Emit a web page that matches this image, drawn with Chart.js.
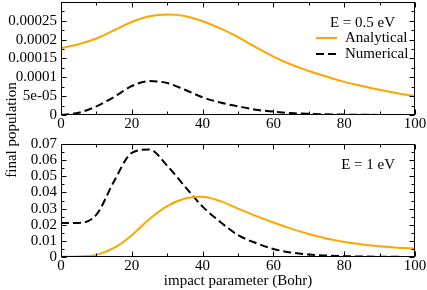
<!DOCTYPE html>
<html>
<head>
<meta charset="utf-8">
<script src="https://cdn.jsdelivr.net/npm/chart.js@4"></script>
<style>
  html, body { margin: 0; padding: 0; background: #fff; }
  #wrap { position: relative; width: 427px; height: 290px; overflow: hidden; background: #fff; }
  canvas { position: absolute; left: 0; }
</style>
</head>
<body>
<div id="wrap">
  <canvas id="c1" width="427" height="290" style="top:0px"></canvas>
  <canvas id="c2" width="427" height="160" style="top:130px"></canvas>
</div>
<script>
// ---- data ----
const xValues = [0, 5, 10, 15, 20, 25, 30, 35, 40, 45, 50, 55, 60, 65, 70, 75, 80, 85, 90, 95, 100];

// E = 0.5 eV
const analyticalHalf = [1.78e-4, 1.88e-4, 2.03e-4, 2.25e-4, 2.47e-4, 2.62e-4, 2.67e-4, 2.63e-4, 2.49e-4, 2.30e-4, 2.07e-4,
                        1.80e-4, 1.55e-4, 1.34e-4, 1.17e-4, 1.02e-4, 0.88e-4, 0.77e-4, 0.67e-4, 0.58e-4, 0.50e-4];
const numericalHalf  = [0, 0.06e-4, 0.23e-4, 0.48e-4, 0.77e-4, 0.90e-4, 0.85e-4, 0.67e-4, 0.47e-4, 0.33e-4, 0.23e-4,
                        0.14e-4, 0.09e-4, 0.05e-4, 0.03e-4, 0.02e-4, 0.01e-4, 0.005e-4, 0.003e-4, 0.001e-4, 0];

// E = 1 eV
const analyticalOne = [0.0001, 0.0003, 0.0013, 0.0056, 0.0135, 0.0235, 0.0315, 0.0362, 0.0373, 0.0346, 0.0300,
                       0.0255, 0.0214, 0.0176, 0.0142, 0.0114, 0.0093, 0.0078, 0.0066, 0.0058, 0.0052];
const numericalOne  = [0.0211, 0.0211, 0.0262, 0.0470, 0.0645, 0.0666, 0.0565, 0.0437, 0.0312, 0.0217, 0.0136,
                       0.0087, 0.0050, 0.0028, 0.0015, 0.0009, 0.0005, 0.0003, 0.0002, 0.0001, 0];

const xTickValues = [0, 20, 40, 60, 80, 100];
const xTickLabels = ['0', '20', '40', '60', '80', '100'];
const yTickValuesTop = [0, 5e-5, 1e-4, 1.5e-4, 2e-4, 2.5e-4];
const yTickLabelsTop = ['0', '5e-05', '0.0001', '0.00015', '0.0002', '0.00025'];
const yTickValuesBottom = [0, 0.01, 0.02, 0.03, 0.04, 0.05, 0.06, 0.07];
const yTickLabelsBottom = ['0', '0.01', '0.02', '0.03', '0.04', '0.05', '0.06', '0.07'];

const seriesNames = ['Analytical', 'Numerical'];
const energyLabels = ['E = 0.5 eV', 'E = 1 eV'];
const xTitle = 'impact parameter (Bohr)';
const yTitle = 'final population';

// ---- styles ----
const FONT = '"Liberation Serif", "Times New Roman", serif';
const ORANGE = '#FFA500';
const DASH = [8, 4];

function pts(ys) { return xValues.map((x, i) => ({ x: x, y: ys[i] })); }

function datasets(a, n) {
  return [
    { label: seriesNames[0], data: pts(a), borderColor: ORANGE, borderWidth: 2, pointRadius: 0,
      tension: 0.4, fill: false },
    { label: seriesNames[1], data: pts(n), borderColor: '#000', borderWidth: 2, borderDash: DASH, pointRadius: 0,
      cubicInterpolationMode: 'monotone', fill: false }
  ];
}

// frame + inward major/minor ticks + in-plot legend
const framePlugin = {
  id: 'frameTicks',
  afterDatasetsDraw(chart, args, opts) {
    const ctx = chart.ctx;
    const { left, right, top, bottom } = chart.chartArea;
    const xs = chart.scales.x, ys = chart.scales.y;
    ctx.save();
    ctx.strokeStyle = '#000';
    ctx.lineWidth = 1;
    const L = Math.round(left) + 0.5, R = Math.round(right) - 0.5, T = Math.round(top) + 0.5, B = Math.round(bottom) - 0.5;
    ctx.beginPath();
    const xv = xs.ticks.map(t => t.value);
    const xStep = xv[1] - xv[0];
    for (let k = 0; xs.min + k * xStep / 2 <= xs.max + 1e-9; k++) {
      const v = xs.min + k * xStep / 2;
      const len = (k % 2 === 0) ? 5 : 3;
      const p = Math.round(xs.getPixelForValue(v)) + 0.5;
      ctx.moveTo(p, B); ctx.lineTo(p, B - len);
      ctx.moveTo(p, T); ctx.lineTo(p, T + len);
    }
    const yv = ys.ticks.map(t => t.value);
    const yStep = yv[1] - yv[0];
    for (let k = 0; ys.min + k * yStep / 2 <= ys.max * (1 + 1e-9); k++) {
      const v = ys.min + k * yStep / 2;
      const len = (k % 2 === 0) ? 5 : 3;
      const p = Math.round(ys.getPixelForValue(v)) + 0.5;
      ctx.moveTo(L, p); ctx.lineTo(L + len, p);
      ctx.moveTo(R, p); ctx.lineTo(R - len, p);
    }
    ctx.stroke();
    ctx.strokeRect(L, T, R - L, B - T);

    // legend / annotation
    ctx.fillStyle = '#000';
    ctx.font = '15px ' + FONT;
    ctx.textBaseline = 'alphabetic';
    ctx.textAlign = 'right';
    ctx.fillText(opts.energy, right - 20, top + opts.energyDy);
    if (opts.showLegend) {
      const ds = chart.data.datasets;
      const tx = right - 70;
      ds.forEach((d, i) => {
        const base = top + 39.5 + i * 16;
        ctx.beginPath();
        ctx.strokeStyle = d.borderColor;
        ctx.lineWidth = 2;
        ctx.setLineDash(d.borderDash || []);
        ctx.moveTo(tx - 29, base - 3.5);
        ctx.lineTo(tx - 8, base - 3.5);
        ctx.stroke();
        ctx.setLineDash([]);
        ctx.textAlign = 'left';
        ctx.fillText(d.label, tx, base);
      });
    }
    if (opts.yTitle) {
      ctx.save();
      ctx.translate(12, 130);
      ctx.rotate(-Math.PI / 2);
      ctx.textAlign = 'center';
      ctx.textBaseline = 'middle';
      ctx.fillText(opts.yTitle, 0, 0);
      ctx.restore();
    }
    ctx.restore();
  }
};

function makeChart(id, a, n, yVals, yLabels, yMax, padTop, padBottom, xHeight, extra) {
  return new Chart(document.getElementById(id), {
    type: 'line',
    data: { datasets: datasets(a, n) },
    plugins: [framePlugin],
    options: {
      responsive: false,
      animation: false,
      devicePixelRatio: 1,
      layout: { padding: { left: 0, right: 12, top: padTop, bottom: padBottom } },
      plugins: {
        legend: { display: false },
        tooltip: { enabled: false },
        frameTicks: extra
      },
      scales: {
        x: {
          type: 'linear', min: 0, max: 100,
          afterBuildTicks: s => { s.ticks = xTickValues.map(v => ({ value: v })); },
          afterFit: s => { s.height = xHeight; s.paddingLeft = 0; s.paddingRight = 0; },
          grid: { display: false, drawTicks: false },
          border: { display: false },
          ticks: {
            padding: 0, maxRotation: 0, autoSkip: false, color: '#000',
            font: { family: FONT, size: 15 },
            callback: (v, i) => xTickLabels[i]
          },
          title: extra.showTitle ? { display: true, text: xTitle, color: '#000',
                   font: { family: FONT, size: 15 }, padding: { top: 0, bottom: 0 } } : { display: false }
        },
        y: {
          type: 'linear', min: 0, max: yMax,
          afterBuildTicks: s => { s.ticks = yVals.map(v => ({ value: v })); },
          afterFit: s => { s.width = 61; s.paddingTop = 0; s.paddingBottom = 0; },
          grid: { display: false, drawTicks: false },
          border: { display: false },
          ticks: {
            padding: 4, autoSkip: false, color: '#000',
            font: { family: FONT, size: 15 },
            callback: (v, i) => yLabels[i]
          }
        }
      }
    }
  });
}

makeChart('c1', analyticalHalf, numericalHalf, yTickValuesTop, yTickLabelsTop, 3e-4, 2, 152, 23,
  { energy: energyLabels[0], energyDy: 25, showLegend: true, showTitle: false, yTitle: yTitle });
makeChart('c2', analyticalOne, numericalOne, yTickValuesBottom, yTickLabelsBottom, 0.07, 14, 0, 33,
  { energy: energyLabels[1], energyDy: 24.5, showLegend: false, showTitle: true, yTitle: null });
</script>
</body>
</html>
